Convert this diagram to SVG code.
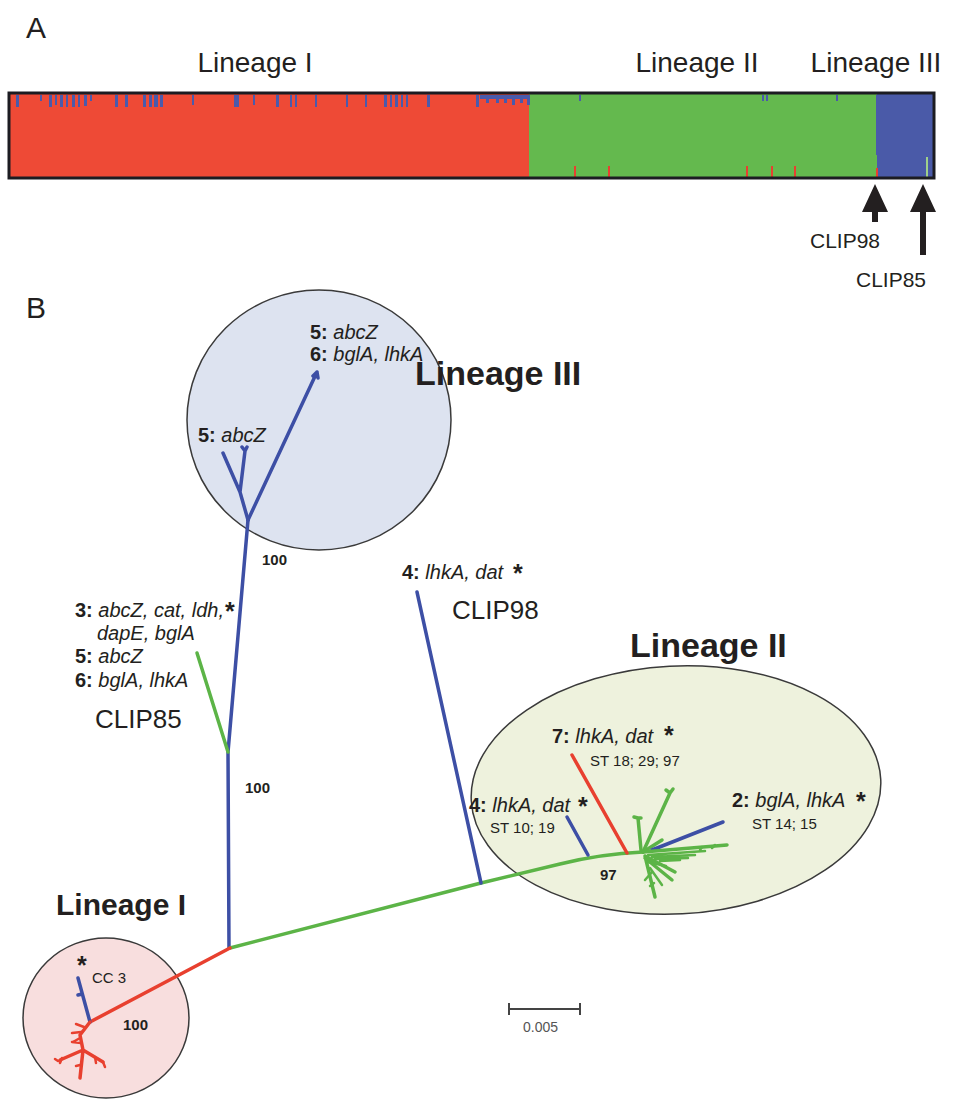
<svg xmlns="http://www.w3.org/2000/svg" width="957" height="1100" viewBox="0 0 957 1100">
<style>
text{font-family:"Liberation Sans",Arial,sans-serif;fill:#231f20}
.pl{font-size:30px}
.lin{font-size:28px}
.linb{font-size:30px;font-weight:bold}
.linb2{font-size:34px;font-weight:bold}
.clip{font-size:26px}
.clipA{font-size:21px}
.lab{font-size:20px}
.b{font-weight:bold}
.i{font-style:italic}
.ast{font-size:25px;font-weight:bold}
.st{font-size:15px}
.bs{font-size:15px;font-weight:bold}
.bl{stroke:#3d4fa5;stroke-width:3.5;fill:none;stroke-linecap:round;stroke-linejoin:round}
.rd{stroke:#e8402f;stroke-width:3.5;fill:none;stroke-linecap:round;stroke-linejoin:round}
.gr{stroke:#5cb447;stroke-width:3.5;fill:none;stroke-linecap:round;stroke-linejoin:round}
.thin{stroke-width:2.5}
.circ{stroke:#3a3a3a;stroke-width:1.5}
</style>
<rect width="957" height="1100" fill="#fff"/>

<g id="panelA">
<text class="pl" x="26" y="38">A</text>
<text class="lin" x="255" y="72" text-anchor="middle">Lineage I</text>
<text class="lin" x="697" y="72" text-anchor="middle">Lineage II</text>
<text class="lin" x="876" y="72" text-anchor="middle">Lineage III</text>
<g id="bar">
<rect x="10" y="93" width="520" height="85" fill="#ee4a36"/>
<rect x="529" y="93" width="349" height="85" fill="#64b94e"/>
<rect x="877" y="93" width="57" height="85" fill="#4a5aa8"/>
<g fill="#4a5aab">
<rect x="16" y="95" width="3" height="12"/>
<rect x="40" y="95" width="2" height="6"/>
<rect x="49" y="95" width="3" height="12"/>
<rect x="55" y="95" width="2" height="10"/>
<rect x="60" y="95" width="3" height="12"/>
<rect x="66" y="95" width="2" height="12"/>
<rect x="72" y="95" width="3" height="12"/>
<rect x="78" y="95" width="2" height="12"/>
<rect x="84" y="95" width="3" height="11"/>
<rect x="90" y="95" width="2" height="6"/>
<rect x="115" y="95" width="3" height="12"/>
<rect x="125" y="95" width="3" height="12"/>
<rect x="143" y="95" width="3" height="12"/>
<rect x="149" y="95" width="3" height="12"/>
<rect x="154" y="95" width="4" height="12"/>
<rect x="160" y="95" width="3" height="12"/>
<rect x="192" y="95" width="2" height="10"/>
<rect x="234" y="95" width="5" height="12"/>
<rect x="253" y="95" width="2" height="10"/>
<rect x="276" y="95" width="3" height="12"/>
<rect x="290" y="95" width="2" height="12"/>
<rect x="295" y="95" width="2" height="12"/>
<rect x="315" y="95" width="2" height="12"/>
<rect x="346" y="95" width="2" height="12"/>
<rect x="365" y="95" width="2" height="12"/>
<rect x="384" y="95" width="3" height="12"/>
<rect x="390" y="95" width="2" height="12"/>
<rect x="395" y="95" width="3" height="12"/>
<rect x="401" y="95" width="2" height="12"/>
<rect x="406" y="95" width="2" height="12"/>
<rect x="427" y="95" width="3" height="12"/>
<rect x="476" y="95" width="3" height="12"/>
<rect x="480" y="95" width="50" height="4"/>
<rect x="486" y="95" width="3" height="8"/>
<rect x="496" y="95" width="3" height="8"/>
<rect x="504" y="95" width="3" height="8"/>
<rect x="512" y="95" width="3" height="10"/>
<rect x="520" y="95" width="3" height="8"/>
<rect x="527" y="95" width="3" height="10"/>
<rect x="579" y="95" width="2" height="6"/>
<rect x="762" y="95" width="2" height="6"/>
<rect x="766" y="95" width="2" height="6"/>
<rect x="836" y="95" width="2" height="6"/>
<rect x="876" y="95" width="2" height="60"/>
</g>
<g fill="#e8402f">
<rect x="574" y="166" width="2" height="12"/>
<rect x="608" y="166" width="2" height="12"/>
<rect x="746" y="166" width="2" height="12"/>
<rect x="771" y="166" width="2" height="12"/>
<rect x="794" y="166" width="2" height="12"/>
<rect x="876" y="168" width="2" height="10"/>
</g>
<rect x="926" y="157" width="2" height="21" fill="#9fd08a"/>
<rect x="9" y="93" width="925" height="85" fill="none" stroke="#1c1c22" stroke-width="3"/>
</g>
<g id="arrows" fill="#231f20">
<path d="M875,184 L888,212 L878,212 L878,222 L872,222 L872,212 L862,212 z"/>
<path d="M923,184 L936,212 L926,212 L926,255 L920,255 L920,212 L910,212 z"/>
</g>
<text class="clipA" x="845" y="248" text-anchor="middle">CLIP98</text>
<text class="clipA" x="891" y="287" text-anchor="middle">CLIP85</text>
</g>

<g id="panelB">
<text class="pl" x="26" y="318">B</text>

<g id="lineageIII">
<ellipse cx="319" cy="420" rx="132" ry="130" fill="#dde3f0" class="circ"/>
<text class="linb2" x="415" y="385">Lineage III</text>
<text class="lab" x="310" y="339"><tspan class="b">5:</tspan><tspan class="i"> abcZ</tspan></text>
<text class="lab" x="310" y="361"><tspan class="b">6:</tspan><tspan class="i"> bglA, lhkA</tspan></text>
<text class="lab" x="198" y="442"><tspan class="b">5:</tspan><tspan class="i"> abcZ</tspan></text>
</g>

<g id="lineageII">
<ellipse cx="676" cy="790" rx="205" ry="124" transform="rotate(-3 676 790)" fill="#eef2dd" class="circ"/>
<text class="linb2" x="630" y="657">Lineage II</text>
<text class="lab" x="552" y="743"><tspan class="b">7:</tspan><tspan class="i"> lhkA, dat</tspan></text>
<text class="ast" x="664" y="744">*</text>
<text class="st" x="590" y="766">ST 18; 29; 97</text>
<text class="lab" x="469" y="812"><tspan class="b">4:</tspan><tspan class="i"> lhkA, dat</tspan></text>
<text class="ast" x="578" y="815">*</text>
<text class="st" x="490" y="833">ST 10; 19</text>
<text class="lab" x="732" y="807"><tspan class="b">2:</tspan><tspan class="i"> bglA, lhkA</tspan></text>
<text class="ast" x="856" y="810">*</text>
<text class="st" x="752" y="829">ST 14; 15</text>
<text class="bs" x="600" y="880">97</text>
</g>

<g id="lineageI">
<ellipse cx="106" cy="1018" rx="83" ry="80" fill="#f8dede" class="circ"/>
<text class="linb" x="56" y="915">Lineage I</text>
<text class="ast" x="77" y="974">*</text>
<text class="st" x="92" y="983">CC 3</text>
<text class="bs" x="123" y="1030">100</text>
</g>

<g id="clip85">
<text class="lab" x="75" y="617"><tspan class="b">3:</tspan><tspan class="i"> abcZ, cat, ldh,</tspan></text>
<text class="ast" x="225" y="620">*</text>
<text class="lab i" x="97" y="640">dapE, bglA</text>
<text class="lab" x="75" y="663"><tspan class="b">5:</tspan><tspan class="i"> abcZ</tspan></text>
<text class="lab" x="75" y="687"><tspan class="b">6:</tspan><tspan class="i"> bglA, lhkA</tspan></text>
<text class="clip" x="95" y="728">CLIP85</text>
</g>

<g id="clip98">
<text class="lab" x="402" y="579"><tspan class="b">4:</tspan><tspan class="i"> lhkA, dat</tspan></text>
<text class="ast" x="513" y="582">*</text>
<text class="clip" x="452" y="619">CLIP98</text>
</g>

<text class="bs" x="262" y="565">100</text>
<text class="bs" x="245" y="793">100</text>

<g id="scale">
<path d="M509,1009 H580 M509,1003 V1015 M580,1003 V1015" stroke="#444" stroke-width="2" fill="none"/>
<text x="523" y="1032" font-size="14" style="fill:#555">0.005</text>
</g>

<g id="connectors">
<path class="bl" d="M229,948 L228,752 L248,520"/>
<path class="bl" d="M248,520 L317,372 M317,372 l-4,4 M317,372 l1,6"/>
<path class="bl" d="M248,520 L240,492 L223,453 M240,492 L245,451 M245,451 l-3,-4 M245,451 l2,-4"/>
<path class="gr" d="M228,752 L197,653"/>
<path class="gr" d="M230,948 L481,883 L560,864 Q600,854 643,852"/>
<path class="bl" d="M481,883 L417,592"/>
<path class="bl" d="M588,855 L567,817"/>
<path class="rd" d="M627,853 L572,755"/>
<path class="gr" d="M643,852 L670,793 M670,793 l-4,-3 M670,793 l3,-4"/>
<path class="gr" d="M641,850 L638,818 M638,818 l-4,-1 M638,818 l3,0"/>
<path class="gr" d="M643,852 L662,840"/>
<path class="bl" d="M652,850 L723,822"/>
<path class="gr" d="M643,852 L727,845"/>
<path class="gr thin" d="M648,855 L705,851 M652,857 L695,855 M655,859 L688,858 M660,861 L680,860 M700,850 l2,-3 M712,848 l3,-3"/>
<path class="gr" d="M645,856 L675,872 M645,858 L672,880 M645,856 L655,897"/>
<path class="gr thin" d="M648,862 L666,866 M650,868 L662,885 M652,872 L645,880 M654,883 l-4,3"/>
<path class="rd" d="M230,948 L90,1022"/>
<path class="bl" d="M90,1022 L78,978 M82,994 l-4,1"/>
<path class="rd" d="M90,1022 L80,1035 L83,1050 M83,1050 L60,1060 M83,1050 L80,1078 M83,1050 L103,1062"/>
<path class="rd thin" d="M84,1027 l-8,-3 M81,1032 l-9,1 M80,1038 l-7,4 M81,1043 l-9,-1 M62,1058 l-2,5 M58,1061 l-3,-2 M103,1062 l2,5 M95,1057 l1,6 M80,1065 l-4,1"/>
</g>
</g>
</svg>
